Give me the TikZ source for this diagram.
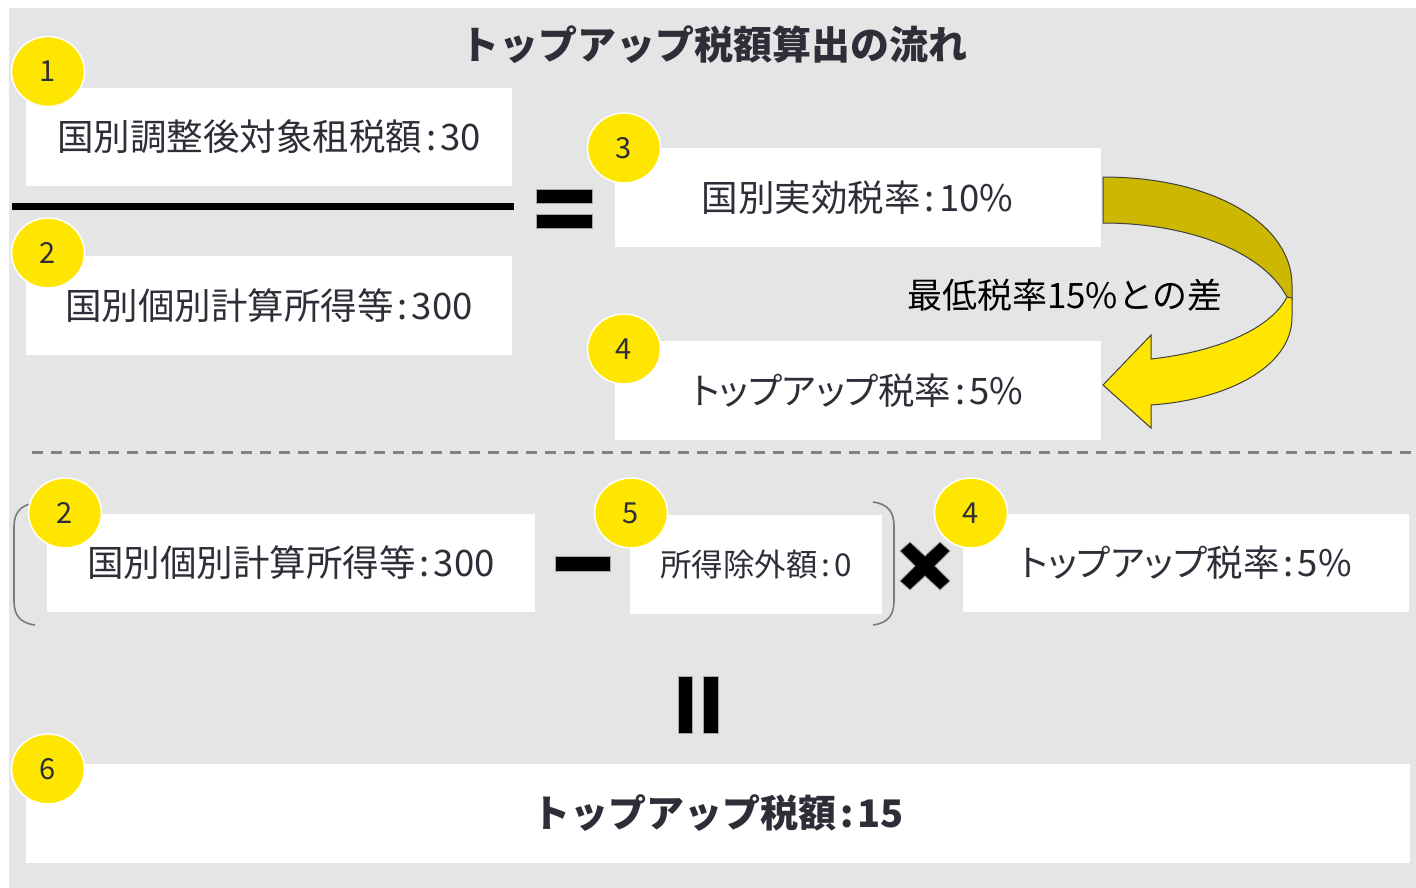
\documentclass[tikz,border=0pt]{standalone}
\usepackage{fontspec}
\usetikzlibrary{shapes.geometric}
\newfontfamily\jp{Noto Sans CJK JP}
\newfontfamily\jpp[RawFeature=+palt]{Noto Sans CJK JP}
\definecolor{bg}{HTML}{E5E5E5}
\definecolor{eyyellow}{HTML}{FFE600}
\definecolor{darkyellow}{HTML}{CCB800}
\definecolor{txt}{HTML}{2E2E38}
\definecolor{dashgray}{HTML}{808088}
\definecolor{brk}{HTML}{7A7A7A}
\newcommand{\cln}{\hspace{4pt}:\hspace{4pt}}
\tikzset{
  box/.style={fill=white, draw=none, inner sep=0pt, text=txt, font=\jp\fontsize{36.5}{40}\selectfont},
  num/.style={ellipse, fill=eyyellow, draw=white, line width=1.5pt, minimum width=73pt, minimum height=70pt, inner sep=0pt, text=txt, font=\jp\fontsize{29}{32}\selectfont},
  bar/.style={fill=black, draw=gray!70, line width=0.6pt},
  bracket/.style={draw=brk, line width=1.6pt},
}
\begin{document}
\begin{tikzpicture}[x=1pt,y=-1pt]
\useasboundingbox (0,0) rectangle (1416,888);
\fill[white] (0,0) rectangle (1416,888);
\fill[bg] (9,8) rectangle (1416,888);

% title
\node[text=txt, font=\jp\bfseries\fontsize{39}{42}\selectfont] (title) at (714,45) {トップアップ税額算出の流れ};

% upper section
\node[box, minimum width=486pt, minimum height=98pt] (b1) at (269,137) {国別調整後対象租税額\cln 30};
\node[box, minimum width=486pt, minimum height=99pt] (b2) at (269,305.5) {国別個別計算所得等\cln 300};
\coordinate (fl) at (12,206);
\coordinate (fr) at (514,206);
\draw[line width=7pt] (fl) -- (fr);
\fill[bar] (536,189) rectangle (592,203);
\fill[bar] (536,214) rectangle (592,228);

\node[box, minimum width=486pt, minimum height=99pt] (b3) at (857.5,197.5) {国別実効税率\cln 10\%};
\node[box, minimum width=486pt, minimum height=99pt, font=\jpp\fontsize{36.5}{40}\selectfont] (b4) at (857.5,390.5) {トップアップ税率\cln 5\%};

% curved arrow
\coordinate (P) at (1287,297);
\filldraw[fill=darkyellow, draw=black!75, line width=1pt]
  (1103,177) .. controls (1215,177) and (1292,225) .. (1292,285) -- (1292,300) -- (P)
  .. controls (1262,250) and (1185,223) .. (1103,223) -- cycle;
\filldraw[fill=eyyellow, draw=black!75, line width=1pt]
  (1292,298) -- (1292,317) .. controls (1292,368) and (1225,400) .. (1151,405)
  -- (1151,428) -- (1103,385) -- (1151,335) -- (1151,359)
  .. controls (1215,352) and (1270,330) .. (P) -- cycle;

\node[text=black, font=\jp\fontsize{35}{40}\selectfont] (lbl) at (1065,295) {最低税率15\%との差};

\node[num] (n1) at (48,71.5) {1};
\node[num] (n2) at (48,253) {2};
\node[num] (n3) at (624,148) {3};
\node[num] (n4) at (624,349) {4};

% dashed separator
\coordinate (dl) at (32,452);
\coordinate (dr) at (1416,452);
\draw[dashgray, line width=3pt, dash pattern=on 11pt off 8pt] (dl) -- (dr);

% lower section
\node[box, minimum width=488pt, minimum height=98pt] (c2) at (291,563) {国別個別計算所得等\cln 300};
\node[box, minimum width=252pt, minimum height=99pt, font=\jp\fontsize{31.5}{36}\selectfont] (c5) at (756,564.5) {所得除外額\cln 0};
\node[box, minimum width=446pt, minimum height=98pt, font=\jpp\fontsize{36.5}{40}\selectfont] (c4) at (1186,563) {トップアップ税率\cln 5\%};

\draw[bracket] (35,503) .. controls (20,505) and (14,513) .. (14,527) -- (14,601) .. controls (14,615) and (20,623) .. (35,625);
\draw[bracket] (873,502) .. controls (888,504) and (894,512) .. (894,526) -- (894,601) .. controls (894,615) and (888,623) .. (873,625);

\fill[bar] (555,556) rectangle (610,571);

% multiplication sign
\filldraw[fill=black, draw=gray!80, line width=0.8pt]
  (900,551) -- (910,542) -- (925,556) -- (940,542) -- (950,551) -- (935,566)
  -- (950,581) -- (940,590) -- (925,576) -- (910,590) -- (900,581) -- (915,566) -- cycle;

\node[num] (m2) at (65,513) {2};
\node[num] (m5) at (631,513) {5};
\node[num] (m4) at (971,513) {4};

% equals (vertical)
\fill[bar] (678,676) rectangle (692,733);
\fill[bar] (703,676) rectangle (718,733);

\node[box, minimum width=1384pt, minimum height=99pt, font=\jp\bfseries\fontsize{38}{42}\selectfont] (c6) at (718,813.5) {トップアップ税額\cln 15};
\node[num] (m6) at (48,769) {6};
\end{tikzpicture}
\end{document}
